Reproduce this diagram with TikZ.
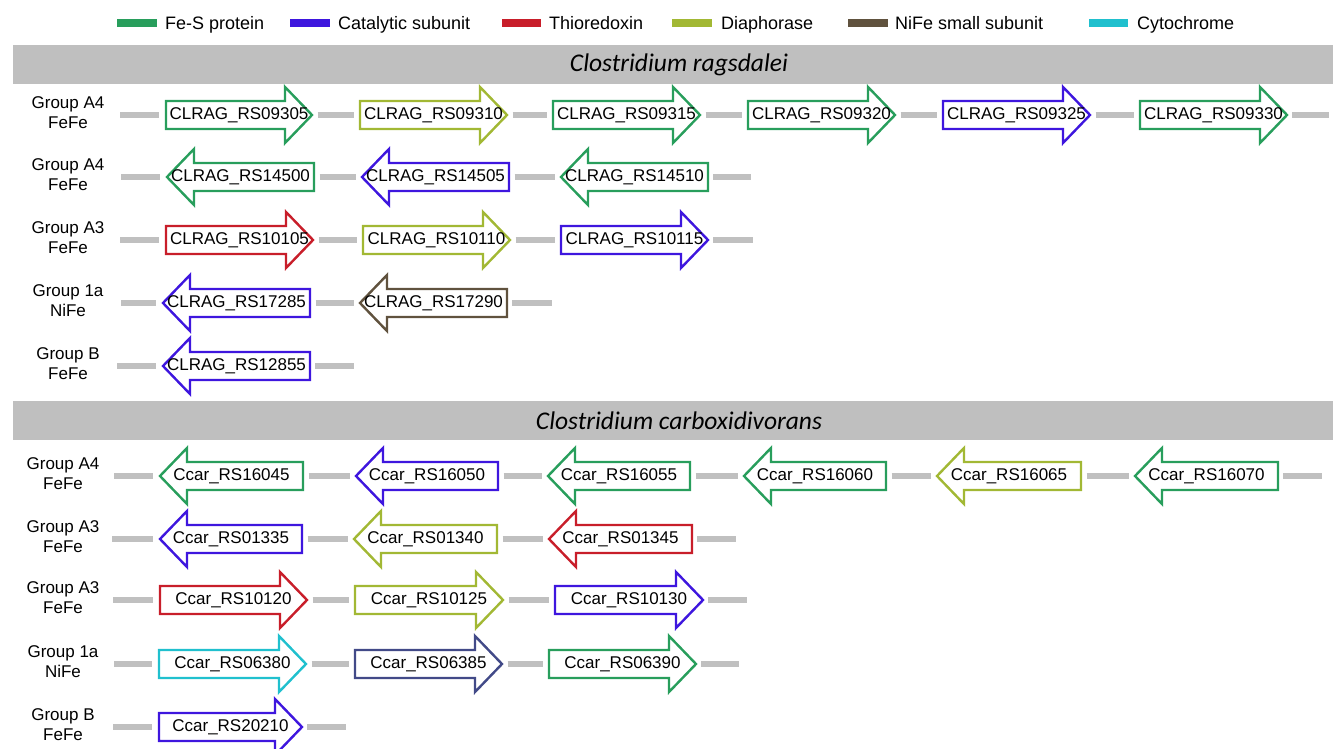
\documentclass[tikz,border=0pt]{standalone}
\usepackage{fontspec}
\setmainfont{Liberation Sans}
\newfontfamily\titlefamily{Carlito}
\definecolor{fes}{RGB}{40,158,92}
\definecolor{cat}{RGB}{62,22,222}
\definecolor{thio}{RGB}{200,30,42}
\definecolor{dia}{RGB}{162,184,52}
\definecolor{nifes}{RGB}{96,82,62}
\definecolor{cyto}{RGB}{32,192,206}
\definecolor{navycol}{RGB}{66,74,136}
\definecolor{bandcol}{RGB}{191,191,191}
\definecolor{conncol}{RGB}{192,192,192}
\newcommand\genefont{\fontsize{17}{20}\selectfont}
\newcommand\grpfont{\fontsize{17}{20}\selectfont}
\newcommand\legfont{\fontsize{18}{21}\selectfont}
\newcommand\titlef{\titlefamily\itshape\fontsize{25.5}{30}\selectfont}
\tikzset{
  genebody/.style={line width=2.4pt, fill=white, line join=miter},
  genelab/.style={inner sep=0pt, minimum height=56pt, font=\genefont},
  conn/.style={draw=conncol, line width=6pt, shorten <=5.5pt, shorten >=5.5pt},
  lead/.style={draw=conncol, line width=6pt, shorten >=7pt},
  trail/.style={draw=conncol, line width=6pt, shorten <=5pt},
  grp/.style={align=center, inner sep=0pt, font=\grpfont},
  legsw/.style={line width=8pt},
  legtx/.style={anchor=west, inner sep=0pt, text height=13pt, text depth=0pt, font=\legfont},
  bandbox/.style={fill=bandcol, draw=none},
  titlelab/.style={inner sep=0pt, font=\titlef}
}
\newcommand\geneR[6]{%
  \draw[genebody,draw=#5] (#2,#4-14) -- (#3-27,#4-14) -- (#3-27,#4-28) -- (#3,#4) -- (#3-27,#4+28) -- (#3-27,#4+14) -- (#2,#4+14) -- cycle;
  \node[genelab,minimum width={(#3)-(#2)}] (#1) at ({(#2+#3)/2},#4) {#6};}
\newcommand\geneL[6]{%
  \draw[genebody,draw=#5] (#3,#4-14) -- (#2+27,#4-14) -- (#2+27,#4-28) -- (#2,#4) -- (#2+27,#4+28) -- (#2+27,#4+14) -- (#3,#4+14) -- cycle;
  \node[genelab,minimum width={(#3)-(#2)}] (#1) at ({(#2+#3)/2},#4) {#6};}
\begin{document}
\begin{tikzpicture}[x=1pt,y=-1pt]
\useasboundingbox (0,0) rectangle (1333,749);

% legend
\draw[legsw,fes] (117,23) -- (157,23);
\node[legtx] (l1) at (165,23) {Fe-S protein};
\draw[legsw,cat] (290,23) -- (330,23);
\node[legtx] (l2) at (338,23) {Catalytic subunit};
\draw[legsw,thio] (502,23) -- (541,23);
\node[legtx] (l3) at (549,23) {Thioredoxin};
\draw[legsw,dia] (672,23) -- (712,23);
\node[legtx] (l4) at (721,23) {Diaphorase};
\draw[legsw,nifes] (848,23) -- (888,23);
\node[legtx] (l5) at (895,23) {NiFe small subunit};
\draw[legsw,cyto] (1089,23) -- (1128,23);
\node[legtx] (l6) at (1137,23) {Cytochrome};

% bands
\fill[bandbox] (13,45) rectangle (1333,84);
\node[titlelab] (t1) at (679,64.5) {Clostridium ragsdalei};
\fill[bandbox] (13,401) rectangle (1333,440);
\node[titlelab] (t2) at (679,420.5) {Clostridium carboxidivorans};

% group labels
\node[grp] (gr1) at (68,112.5) {Group A4\\FeFe};
\node[grp] (gr2) at (68,174.5) {Group A4\\FeFe};
\node[grp] (gr3) at (68,237.5) {Group A3\\FeFe};
\node[grp] (gr4) at (68,300.5) {Group 1a\\NiFe};
\node[grp] (gr5) at (68,363.5) {Group B\\FeFe};
\node[grp] (gc1) at (63,473.5) {Group A4\\FeFe};
\node[grp] (gc2) at (63,536.5) {Group A3\\FeFe};
\node[grp] (gc3) at (63,597.5) {Group A3\\FeFe};
\node[grp] (gc4) at (63,661.5) {Group 1a\\NiFe};
\node[grp] (gc5) at (63,724.5) {Group B\\FeFe};

% Row R1
\geneR{r1a}{166}{312}{115}{fes}{CLRAG\_RS09305}
\geneR{r1b}{360}{507}{115}{dia}{CLRAG\_RS09310}
\geneR{r1c}{553}{700}{115}{fes}{CLRAG\_RS09315}
\geneR{r1d}{748}{895}{115}{fes}{CLRAG\_RS09320}
\geneR{r1e}{943}{1090}{115}{cat}{CLRAG\_RS09325}
\geneR{r1f}{1140}{1287}{115}{fes}{CLRAG\_RS09330}
\coordinate (r1s) at (120,115); \coordinate (r1t) at (1329,115);
\draw[lead] (r1s) -- (r1a);
\draw[conn] (r1a) -- (r1b); \draw[conn] (r1b) -- (r1c); \draw[conn] (r1c) -- (r1d);
\draw[conn] (r1d) -- (r1e); \draw[conn] (r1e) -- (r1f);
\draw[trail] (r1f) -- (r1t);

% Row R2
\geneL{r2a}{167}{314}{177}{fes}{CLRAG\_RS14500}
\geneL{r2b}{362}{509}{177}{cat}{CLRAG\_RS14505}
\geneL{r2c}{561}{708}{177}{fes}{CLRAG\_RS14510}
\coordinate (r2s) at (121,177); \coordinate (r2t) at (751,177);
\draw[lead] (r2s) -- (r2a);
\draw[conn] (r2a) -- (r2b); \draw[conn] (r2b) -- (r2c);
\draw[trail] (r2c) -- (r2t);

% Row R3
\geneR{r3a}{166}{313}{240}{thio}{CLRAG\_RS10105}
\geneR{r3b}{363}{510}{240}{dia}{CLRAG\_RS10110}
\geneR{r3c}{561}{708}{240}{cat}{CLRAG\_RS10115}
\coordinate (r3s) at (120,240); \coordinate (r3t) at (753,240);
\draw[lead] (r3s) -- (r3a);
\draw[conn] (r3a) -- (r3b); \draw[conn] (r3b) -- (r3c);
\draw[trail] (r3c) -- (r3t);

% Row R4
\geneL{r4a}{163}{310}{303}{cat}{CLRAG\_RS17285}
\geneL{r4b}{360}{507}{303}{nifes}{CLRAG\_RS17290}
\coordinate (r4s) at (121,303); \coordinate (r4t) at (552,303);
\draw[lead] (r4s) -- (r4a);
\draw[conn] (r4a) -- (r4b);
\draw[trail] (r4b) -- (r4t);

% Row R5
\geneL{r5a}{163}{310}{366}{cat}{CLRAG\_RS12855}
\coordinate (r5s) at (117,366); \coordinate (r5t) at (354,366);
\draw[lead] (r5s) -- (r5a);
\draw[trail] (r5a) -- (r5t);

% Row C1
\geneL{c1a}{160}{303}{476}{fes}{Ccar\_RS16045}
\geneL{c1b}{356}{498}{476}{cat}{Ccar\_RS16050}
\geneL{c1c}{548}{690}{476}{fes}{Ccar\_RS16055}
\geneL{c1d}{744}{886}{476}{fes}{Ccar\_RS16060}
\geneL{c1e}{937}{1081}{476}{dia}{Ccar\_RS16065}
\geneL{c1f}{1135}{1278}{476}{fes}{Ccar\_RS16070}
\coordinate (c1s) at (114,476); \coordinate (c1t) at (1322,476);
\draw[lead] (c1s) -- (c1a);
\draw[conn] (c1a) -- (c1b); \draw[conn] (c1b) -- (c1c); \draw[conn] (c1c) -- (c1d);
\draw[conn] (c1d) -- (c1e); \draw[conn] (c1e) -- (c1f);
\draw[trail] (c1f) -- (c1t);

% Row C2
\geneL{c2a}{160}{302}{539}{cat}{Ccar\_RS01335}
\geneL{c2b}{354}{497}{539}{dia}{Ccar\_RS01340}
\geneL{c2c}{549}{692}{539}{thio}{Ccar\_RS01345}
\coordinate (c2s) at (112,539); \coordinate (c2t) at (736,539);
\draw[lead] (c2s) -- (c2a);
\draw[conn] (c2a) -- (c2b); \draw[conn] (c2b) -- (c2c);
\draw[trail] (c2c) -- (c2t);

% Row C3
\geneR{c3a}{160}{307}{600}{thio}{Ccar\_RS10120}
\geneR{c3b}{355}{503}{600}{dia}{Ccar\_RS10125}
\geneR{c3c}{555}{703}{600}{cat}{Ccar\_RS10130}
\coordinate (c3s) at (113,600); \coordinate (c3t) at (747,600);
\draw[lead] (c3s) -- (c3a);
\draw[conn] (c3a) -- (c3b); \draw[conn] (c3b) -- (c3c);
\draw[trail] (c3c) -- (c3t);

% Row C4
\geneR{c4a}{159}{306}{664}{cyto}{Ccar\_RS06380}
\geneR{c4b}{355}{502}{664}{navycol}{Ccar\_RS06385}
\geneR{c4c}{549}{696}{664}{fes}{Ccar\_RS06390}
\coordinate (c4s) at (114,664); \coordinate (c4t) at (739,664);
\draw[lead] (c4s) -- (c4a);
\draw[conn] (c4a) -- (c4b); \draw[conn] (c4b) -- (c4c);
\draw[trail] (c4c) -- (c4t);

% Row C5
\geneR{c5a}{159}{302}{727}{cat}{Ccar\_RS20210}
\coordinate (c5s) at (113,727); \coordinate (c5t) at (346,727);
\draw[lead] (c5s) -- (c5a);
\draw[trail] (c5a) -- (c5t);
\end{tikzpicture}
\end{document}
